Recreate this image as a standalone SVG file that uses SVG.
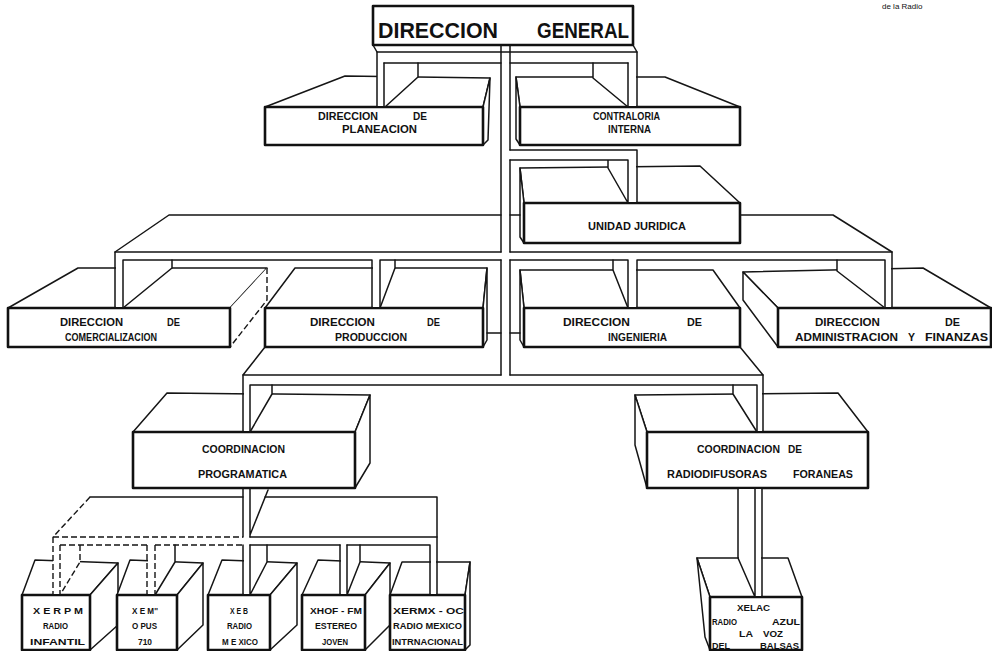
<svg xmlns="http://www.w3.org/2000/svg" width="992" height="651" viewBox="0 0 992 651">
<defs>
<style>
.l{fill:none;stroke:#151515;stroke-width:1.5;stroke-linecap:round;stroke-linejoin:round}
.d{fill:none;stroke:#151515;stroke-width:1.4;stroke-dasharray:6 3}
.fc{fill:#fff;stroke:#151515;stroke-width:1.5;stroke-linejoin:round}
.fn{fill:#fff;stroke:none}
.fr{fill:#fff;stroke:#111;stroke-width:2.6;stroke-linejoin:round}
.w{fill:#fff;stroke:none}
.t{font-family:"Liberation Sans",Arial,sans-serif;font-weight:bold;font-size:10px;fill:#111}
.s{font-family:"Liberation Sans",Arial,sans-serif;font-weight:bold;font-size:9.5px;fill:#111}
.tt{font-family:"Liberation Sans",Arial,sans-serif;font-weight:bold;font-size:22px;fill:#111}
</style>
</defs>
<rect width="992" height="651" fill="#fff"/>
<text x="882" y="9" font-family="Liberation Sans, Arial, sans-serif" font-size="8" fill="#111">de la Radio</text>

<g id="direccion-general">
<rect class="fr" x="373" y="6" width="260" height="39" stroke-width="3"/>
<text class="tt" x="378" y="38" textLength="120" lengthAdjust="spacingAndGlyphs">DIRECCION</text>
<text class="tt" x="537" y="38" textLength="92" lengthAdjust="spacingAndGlyphs">GENERAL</text>
</g>

<g id="dir-planeacion">
<polygon class="fc" points="265,107 345,76 490,78 483,107"/>
<polygon class="fc" points="483,107 490,78 488,140 483,145"/>
<rect class="fr" x="265" y="107" width="218" height="38"/>
<text class="t" x="318" y="120" textLength="60" lengthAdjust="spacingAndGlyphs">DIRECCION</text>
<text class="t" x="413" y="120" textLength="14" lengthAdjust="spacingAndGlyphs">DE</text>
<text class="t" x="342" y="133" textLength="75" lengthAdjust="spacingAndGlyphs">PLANEACION</text>
</g>

<g id="contraloria-interna">
<polygon class="fc" points="520,107 516,77 665,77 740,107"/>
<polygon class="fc" points="520,107 516,77 516,139 520,145"/>
<rect class="fr" x="520" y="107" width="220" height="38"/>
<text class="t" x="593" y="120" textLength="67" lengthAdjust="spacingAndGlyphs">CONTRALORIA</text>
<text class="t" x="608" y="133" textLength="43" lengthAdjust="spacingAndGlyphs">INTERNA</text>
</g>

<g id="unidad-juridica">
<polygon class="fc" points="524,203 520,168 700,166 740,203"/>
<polygon class="fc" points="524,203 520,168 520,237 524,243"/>
<rect class="fr" x="524" y="203" width="216" height="40"/>
<text class="t" x="588" y="230" textLength="98" lengthAdjust="spacingAndGlyphs">UNIDAD JURIDICA</text>
</g>

<g id="dir-comercializacion">
<polygon class="fc" points="8,308 78,268 267,268 230,308"/>
<polygon class="fn" points="230,308 267,268 267,300 230,347"/>
<path class="d" d="M267,268 V300 L230,347"/>
<rect class="fr" x="8" y="308" width="222" height="39"/>
<text class="t" x="60" y="326" textLength="63" lengthAdjust="spacingAndGlyphs">DIRECCION</text>
<text class="t" x="167" y="326" textLength="13" lengthAdjust="spacingAndGlyphs">DE</text>
<text class="t" x="65" y="341" textLength="92" lengthAdjust="spacingAndGlyphs">COMERCIALIZACION</text>
</g>

<g id="dir-produccion">
<polygon class="fc" points="265,308 295,268 487,268 483,308"/>
<polygon class="fc" points="483,308 487,268 487,340 483,347"/>
<rect class="fr" x="265" y="308" width="218" height="39"/>
<text class="t" x="310" y="326" textLength="65" lengthAdjust="spacingAndGlyphs">DIRECCION</text>
<text class="t" x="427" y="326" textLength="13" lengthAdjust="spacingAndGlyphs">DE</text>
<text class="t" x="335" y="341" textLength="72" lengthAdjust="spacingAndGlyphs">PRODUCCION</text>
</g>

<g id="dir-ingenieria">
<polygon class="fc" points="524,308 520,270 713,270 740,308"/>
<polygon class="fc" points="524,308 520,270 520,340 524,347"/>
<rect class="fr" x="524" y="308" width="216" height="39"/>
<text class="t" x="563" y="326" textLength="67" lengthAdjust="spacingAndGlyphs">DIRECCION</text>
<text class="t" x="687" y="326" textLength="15" lengthAdjust="spacingAndGlyphs">DE</text>
<text class="t" x="608" y="341" textLength="59" lengthAdjust="spacingAndGlyphs">INGENIERIA</text>
</g>

<g id="dir-administracion">
<polygon class="fc" points="778,308 743,272 923,268 991,308"/>
<polygon class="fc" points="778,308 743,272 743,300 778,347"/>
<rect class="fr" x="778" y="308" width="213" height="39"/>
<text class="t" x="815" y="326" textLength="65" lengthAdjust="spacingAndGlyphs">DIRECCION</text>
<text class="t" x="945" y="326" textLength="15" lengthAdjust="spacingAndGlyphs">DE</text>
<text class="t" x="795" y="341" textLength="103" lengthAdjust="spacingAndGlyphs">ADMINISTRACION</text>
<text class="t" x="908" y="341" textLength="7" lengthAdjust="spacingAndGlyphs">Y</text>
<text class="t" x="925" y="341" textLength="63" lengthAdjust="spacingAndGlyphs">FINANZAS</text>
</g>

<g id="coord-programatica">
<polygon class="fc" points="133,432 167,393 370,395 355,432"/>
<polygon class="fc" points="355,432 370,395 370,463 355,488"/>
<rect class="fr" x="133" y="432" width="222" height="56"/>
<text class="t" x="202" y="453" textLength="83" lengthAdjust="spacingAndGlyphs">COORDINACION</text>
<text class="t" x="198" y="478" textLength="89" lengthAdjust="spacingAndGlyphs">PROGRAMATICA</text>
</g>

<g id="coord-radiodifusoras">
<polygon class="fc" points="647,432 635,395 838,393 868,432"/>
<polygon class="fc" points="647,432 635,395 635,445 647,488"/>
<rect class="fr" x="647" y="432" width="221" height="56"/>
<text class="t" x="697" y="453" textLength="83" lengthAdjust="spacingAndGlyphs">COORDINACION</text>
<text class="t" x="788" y="453" textLength="14" lengthAdjust="spacingAndGlyphs">DE</text>
<text class="t" x="667" y="478" textLength="100" lengthAdjust="spacingAndGlyphs">RADIODIFUSORAS</text>
<text class="t" x="793" y="478" textLength="60" lengthAdjust="spacingAndGlyphs">FORANEAS</text>
</g>

<g id="xerpm">
<polygon class="fc" points="22,595 35,560 118,563 90,595"/>
<polygon class="fc" points="90,595 118,563 118,625 90,650"/>
<rect class="fr" x="22" y="595" width="68" height="55"/>
<text class="s" x="33" y="614" textLength="50" lengthAdjust="spacingAndGlyphs">X E R P M</text>
<text class="s" x="43" y="629" textLength="25" lengthAdjust="spacingAndGlyphs">RADIO</text>
<text class="s" x="30" y="645" textLength="55" lengthAdjust="spacingAndGlyphs">INFANTIL</text>
</g>

<g id="xem">
<polygon class="fc" points="117,595 130,560 203,563 177,595"/>
<polygon class="fc" points="177,595 203,563 203,625 177,650"/>
<rect class="fr" x="117" y="595" width="60" height="55"/>
<text class="s" x="132" y="614" textLength="26" lengthAdjust="spacingAndGlyphs">X E M''</text>
<text class="s" x="132" y="629" textLength="25" lengthAdjust="spacingAndGlyphs">O PUS</text>
<text class="s" x="138" y="645" textLength="14" lengthAdjust="spacingAndGlyphs">710</text>
</g>

<g id="xeb">
<polygon class="fc" points="208,595 222,560 297,563 270,595"/>
<polygon class="fc" points="270,595 297,563 297,625 270,650"/>
<rect class="fr" x="208" y="595" width="62" height="55"/>
<text class="s" x="230" y="614" textLength="18" lengthAdjust="spacingAndGlyphs">X E B</text>
<text class="s" x="227" y="629" textLength="25" lengthAdjust="spacingAndGlyphs">RADIO</text>
<text class="s" x="222" y="645" textLength="36" lengthAdjust="spacingAndGlyphs">M E XICO</text>
</g>

<g id="xhof-fm">
<polygon class="fc" points="302,595 318,560 390,563 365,595"/>
<polygon class="fc" points="365,595 390,563 390,625 365,650"/>
<rect class="fr" x="302" y="595" width="63" height="55"/>
<text class="s" x="310" y="614" textLength="52" lengthAdjust="spacingAndGlyphs">XHOF - FM</text>
<text class="s" x="315" y="629" textLength="42" lengthAdjust="spacingAndGlyphs">ESTEREO</text>
<text class="s" x="322" y="645" textLength="26" lengthAdjust="spacingAndGlyphs">JOVEN</text>
</g>

<g id="xermx-oc">
<polygon class="fc" points="390,595 402,562 470,562 465,595"/>
<polygon class="fc" points="465,595 470,562 470,645 465,650"/>
<rect class="fr" x="390" y="595" width="75" height="55"/>
<text class="s" x="393" y="614" textLength="71" lengthAdjust="spacingAndGlyphs">XERMX - OC</text>
<text class="s" x="393" y="629" textLength="69" lengthAdjust="spacingAndGlyphs">RADIO MEXICO</text>
<text class="s" x="392" y="645" textLength="71" lengthAdjust="spacingAndGlyphs">INTRNACIONAL</text>
</g>

<g id="xelac">
<polygon class="fc" points="710,597 697,558 788,558 802,597"/>
<polygon class="fc" points="710,597 697,558 705,637 710,650"/>
<rect class="fr" x="710" y="597" width="92" height="53"/>
<text class="s" x="737" y="611" textLength="33" lengthAdjust="spacingAndGlyphs">XELAC</text>
<text class="s" x="712" y="625" textLength="25" lengthAdjust="spacingAndGlyphs">RADIO</text>
<text class="s" x="772" y="625" textLength="28" lengthAdjust="spacingAndGlyphs">AZUL</text>
<text class="s" x="739" y="637" textLength="14" lengthAdjust="spacingAndGlyphs">LA</text>
<text class="s" x="763" y="637" textLength="20" lengthAdjust="spacingAndGlyphs">VOZ</text>
<text class="s" x="712" y="649" textLength="18" lengthAdjust="spacingAndGlyphs">DEL</text>
<text class="s" x="760" y="649" textLength="39" lengthAdjust="spacingAndGlyphs">BALSAS</text>
</g>

<g id="connectors">
<polygon class="w" points="377,64 418,64 418,77 385,106 377,106"/>
<polygon class="w" points="636,64 593,64 593,78 627,106 636,106"/>
<polygon class="w" points="636,161 608,161 608,168 627,202 636,202"/>
<polygon class="w" points="116,261 172,261 172,269 124,307 116,307"/>
<polygon class="w" points="373,261 395,261 395,269 381,307 373,307"/>
<polygon class="w" points="636,261 613,261 613,271 627,307 636,307"/>
<polygon class="w" points="891,261 837,261 837,272 884,307 891,307"/>
<polygon class="w" points="244,386 272,386 272,394 251,431 244,431"/>
<polygon class="w" points="762,386 733,386 733,394 756,431 762,431"/>
<polygon class="w" points="53,546 80,546 80,562 61,594 53,594"/>
<polygon class="w" points="148,546 175,546 175,562 156,594 148,594"/>
<polygon class="w" points="244,546 267,546 267,562 251,594 244,594"/>
<polygon class="w" points="341,546 360,546 360,562 348,594 341,594"/>
<polygon class="w" points="431,546 436,546 436,594 431,594"/>
<polygon class="w" points="739,489 761,489 761,596 755,596 739,559"/>
<path class="l" d="M501,45 V252 M501,260 V375 M510,45 V150 M510,160 V252 M510,260 V375"/>
<path class="l" d="M373,45 L377,52 H637 L633,45 M384,63 H501 M510,63 H628"/>
<path class="l" d="M377,52 V107 M384,63 V107 M418,63 V77 L385,107"/>
<path class="l" d="M637,52 V107 M628,63 V107 M593,63 V78 L628,107"/>
<path class="l" d="M510,150 H637 V203 M510,160 H628 V203 M608,160 V168 L628,203"/>
<path class="l" d="M115,252 L169,215 H501 M510,215 H520 M740,215 H833 L892,252"/>
<path class="l" d="M115,308 V252 H501 M510,252 H892 V308"/>
<path class="l" d="M123,308 V260 H372 V308 M380,308 V260 H501 M510,260 H628 V308 M637,308 V260 H885 V308"/>
<path class="l" d="M172,260 V268 L123,308 M395,260 V268 L380,308 M613,260 V270 L628,308 M837,260 V271 L885,308"/>
<path class="l" d="M487,333 H501 M510,333 H520"/>
<path class="l" d="M265,347 L243,375 H501 M510,375 H763 L740,347"/>
<path class="l" d="M243,375 V432 M250,432 V385 H757 V432 M763,375 V432"/>
<path class="l" d="M272,385 V394 L250,432 M733,385 V394 L757,432"/>
<path class="l" d="M243,488 V537 M250,488 V537 M268,490 L250,535"/>
<path class="l" d="M90,497 H243 M265,497 H437 V595"/>
<path class="d" d="M90,497 L53,537"/>
<path class="l" d="M250,537 H437 M250,545 H340 M347,545 H430 V595"/>
<path class="d" d="M53,537 H243 M60,545 H147 M155,545 H243"/>
<path class="d" d="M53,537 V595 M60,545 V595 M80,545 V562 L60,595"/>
<path class="d" d="M147,545 V595 M155,545 V595"/>
<path class="l" d="M175,545 V562 L155,595"/>
<path class="l" d="M243,545 V595 M250,545 V595 M267,545 V562 L250,595"/>
<path class="l" d="M340,545 V595 M347,545 V595 M360,545 V562 L347,595"/>
<path class="l" d="M755,488 V597 M762,488 V597 M738,488 V558 L755,597"/>
</g>
</svg>
